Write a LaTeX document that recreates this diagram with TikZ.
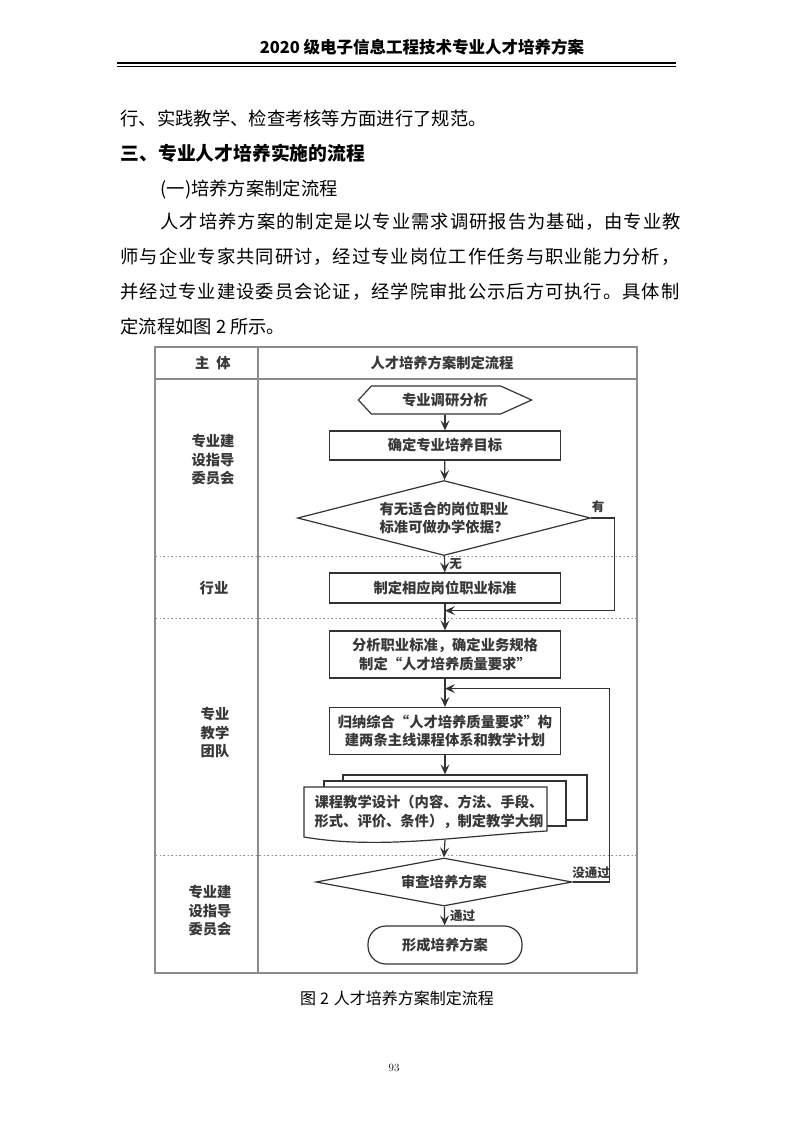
\documentclass[tikz,border=0pt]{standalone}
\usepackage{fontspec}
\usetikzlibrary{arrows.meta,shapes.geometric,calc,positioning}
\newfontfamily\cjk{Noto Sans CJK SC}
\newfontfamily\cjkwide[LetterSpace=5.5]{Noto Sans CJK SC}
\newcommand{\bodysize}{\fontsize{18.3}{22}\selectfont}
\newcommand{\chartsize}{\fontsize{14.3}{18.5}\selectfont}

\begin{document}
\begin{tikzpicture}[x=1pt,y=-1pt,
  >={Stealth[length=10pt,width=9pt,inset=4pt]},
  frame/.style={draw=black!45,line width=1.4pt},
  sep/.style={draw=black!45,line width=1pt,dash pattern=on 2pt off 2.5pt on 1pt off 2.5pt},
  line/.style={draw=black!80,line width=1.2pt},
  txt/.style={text=black!78,font=\cjk\bfseries\chartsize,inner sep=0pt},
  box/.style={txt,line,fill=white,minimum width=231pt,align=center},
  dia/.style={txt,line,diamond,aspect=4,align=center},
  lbl/.style={txt,font=\cjk\bfseries\fontsize{12.5}{14}\selectfont},
  every path/.append style={line width=1.2pt}]
\useasboundingbox (0,0) rectangle (793,1122);
\fill[white] (0,0) rectangle (793,1122);
%HEADER
\node[font=\cjk\bfseries\fontsize{16.5}{18}\selectfont] (title) at (422,47) {2020 级电子信息工程技术专业人才培养方案};
\draw[line width=2.4pt] (117,63) -- (676,63);
\draw[line width=0.9pt] (117,66.5) -- (676,66.5);
%TEXT
\node[anchor=west,inner sep=0pt,font=\cjk\bodysize] (l1) at (120,118) {行、实践教学、检查考核等方面进行了规范。};
\node[anchor=west,inner sep=0pt,font=\cjk\bfseries\fontsize{18.8}{22}\selectfont] (h1) at (120,153) {三、专业人才培养实施的流程};
\node[anchor=west,inner sep=0pt,font=\cjk\bodysize] (h2) at (160,190) {(一)培养方案制定流程};
\node[anchor=west,inner sep=0pt,font=\cjkwide\bodysize] (p1) at (160,222) {人才培养方案的制定是以专业需求调研报告为基础，由专业教};
\node[anchor=west,inner sep=0pt,font=\cjkwide\bodysize] (p2) at (120,257) {师与企业专家共同研讨，经过专业岗位工作任务与职业能力分析，};
\node[anchor=west,inner sep=0pt,font=\cjkwide\bodysize] (p3) at (120,292) {并经过专业建设委员会论证，经学院审批公示后方可执行。具体制};
\node[anchor=west,inner sep=0pt,font=\cjk\bodysize] (p4) at (120,327) {定流程如图\hspace{4pt}2\hspace{4pt}所示。};
%FRAME
\draw[frame] (155,347) rectangle (637,973);
\draw[frame] (155,379) -- (637,379);
\draw[frame] (258,347) -- (258,973);
\foreach \y in {556,618,855}
  \draw[sep] (155,\y) -- (637,\y);
\node[txt] (who) at (213,363) {主\hspace{7pt}体};
\node[txt] (flow) at (442,363) {人才培养方案制定流程};
\node[txt,align=center] (g1) at (213,460) {专业建\\设指导\\委员会};
\node[txt] (g2) at (214,588) {行业};
\node[txt,align=center] (g3) at (215,733) {专业\\教学\\团队};
\node[txt,align=center] (g4) at (210,911) {专业建\\设指导\\委员会};
%FLOW
\node[txt,minimum width=172pt,minimum height=28pt] (survey) at (445,400) {专业调研分析};
\draw[line] (survey.west) -- ++(13,-14) -- ($(survey.east)+(-31,-14)$) -- (survey.east)
  -- ++(-31,14) -- ($(survey.west)+(13,14)$) -- cycle;
\node[box,minimum height=29pt] (goal) at (445,445.5) {确定专业培养目标};
\node[dia,minimum width=293pt,minimum height=75pt] (dec1) at (444,518) {有无适合的岗位职业\\标准可做办学依据？};
\node[box,minimum height=30pt] (std) at (445,588) {制定相应岗位职业标准};
\node[box,minimum height=47pt] (spec) at (445,654.5) {分析职业标准，确定业务规格\\制定“人才培养质量要求”};
\node[box,minimum height=47pt] (sum) at (445,731) {归纳综合“人才培养质量要求”构\\建两条主线课程体系和教学计划};
%STACK
\node[line,fill=white,minimum width=244pt,minimum height=45pt] (back) at (465,797.5) {};
\node[line,fill=white,minimum width=242pt,minimum height=45pt] (mid) at (445,803.5) {};
\draw[line,fill=white] (304,787) -- (547,787) -- (547,831) .. controls (460,836) and (380,850) .. (304,837) -- cycle;
\node[txt,align=left,anchor=west] (doc) at (314,812) {课程教学设计（内容、方法、手段、\\形式、评价、条件），制定教学大纲};
\coordinate (docbot) at (445,840);
\node[dia,minimum width=256pt,minimum height=48pt] (dec2) at (444,882) {审查培养方案};
\node[box,rounded corners=18pt,minimum width=154pt,minimum height=38pt] (plan) at (445,945) {形成培养方案};
%ARROWS
\draw[line,->] (survey.south) -- (goal.north);
\draw[line,->] (goal) -- (dec1);
\draw[line,->] (dec1) -- node[lbl,right,xshift=4pt]{无} (std);
\draw[line,->] (dec1.east) -- node[lbl,above,pos=0.3,yshift=5pt]{有} ++(23,0) |- ($(std.south)+(0,7)$);
\draw[line,->] (std) -- (spec);
\draw[line,->] (spec) -- (sum);
\draw[line,->] (dec2.east) -- node[lbl,above,yshift=3pt]{没通过} ++(37,0) |- ($(spec.south)+(0,10)$);
\draw[line,->] (sum.south) -- (sum.south |- back.north);
\draw[line,->] (docbot) -- (dec2.north);
\draw[line,->] (dec2) -- node[lbl,right,xshift=5pt]{通过} (plan);
%CAPTION
\node[font=\cjk\fontsize{16}{18}\selectfont] (cap) at (397,998) {图\hspace{4pt}2\hspace{5pt}人才培养方案制定流程};
\node[font=\fontsize{11}{13}\selectfont] (page) at (394,1068) {93};
\end{tikzpicture}
\end{document}
